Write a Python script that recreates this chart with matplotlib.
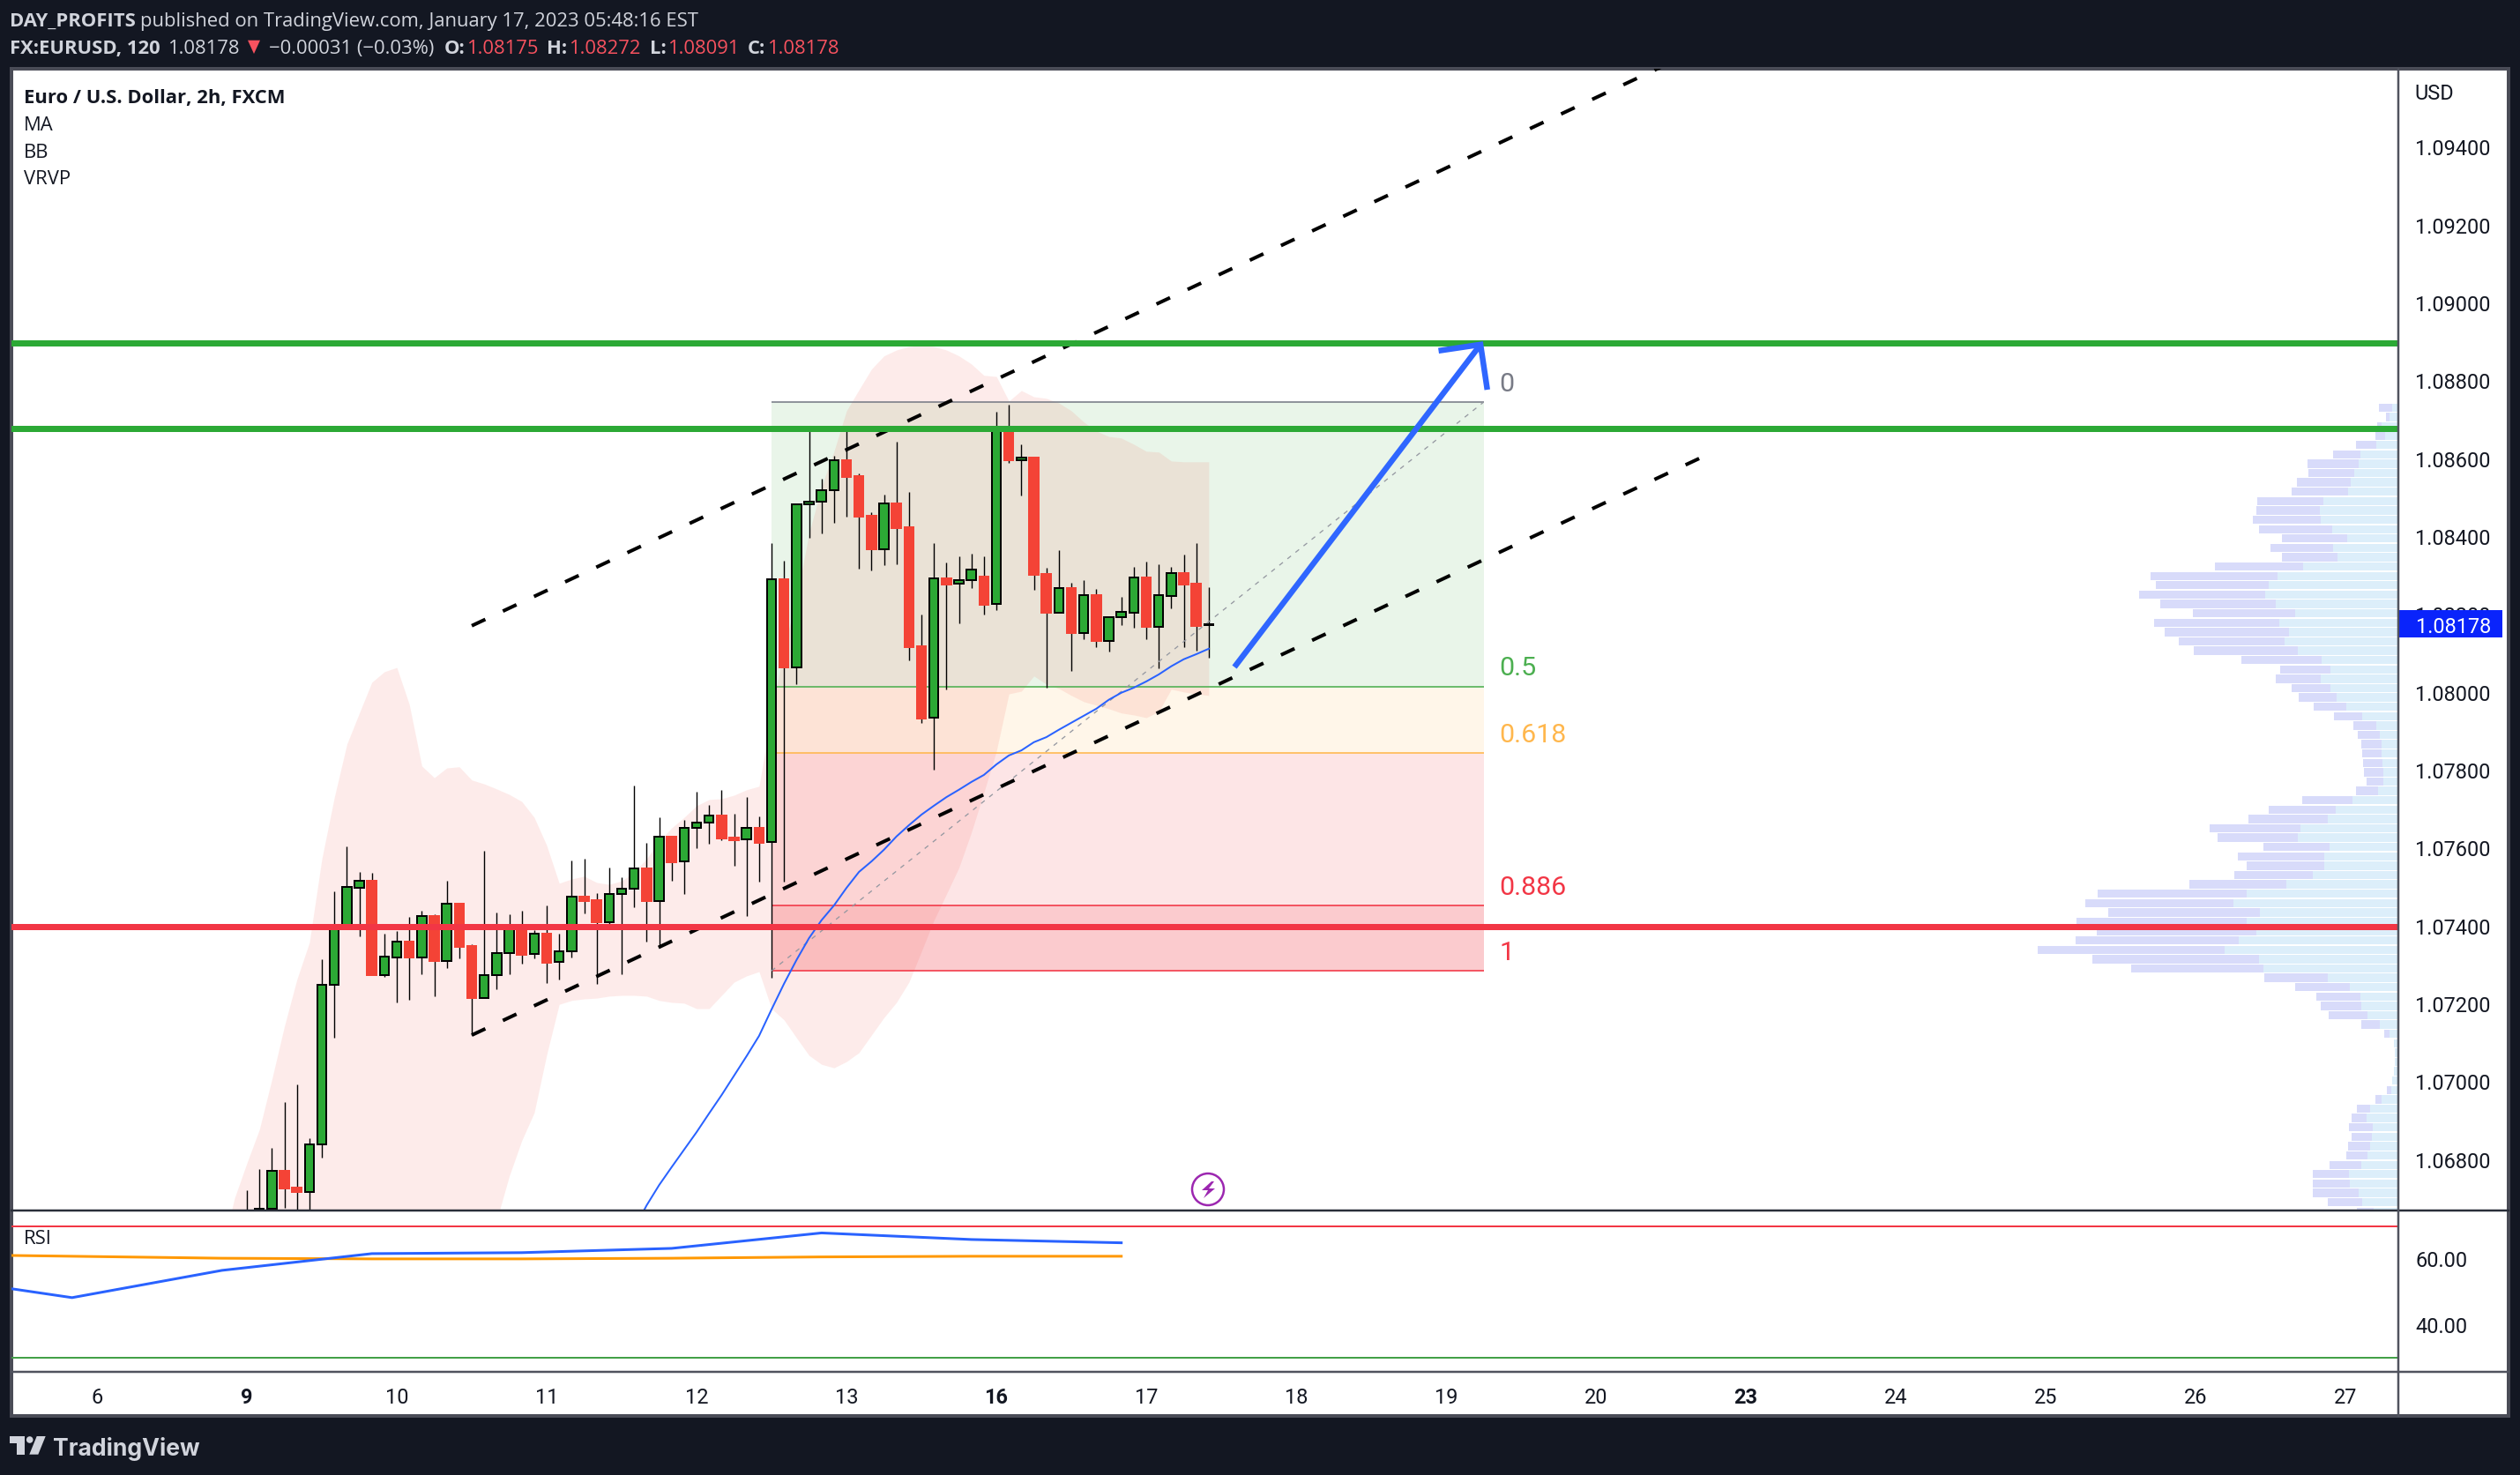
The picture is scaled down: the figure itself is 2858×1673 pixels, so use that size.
import numpy as np
import matplotlib
matplotlib.use("Agg")
from matplotlib import pyplot as plt
from matplotlib.patches import Rectangle, Polygon, Circle
from matplotlib.transforms import ScaledTranslation

W, H = 2858, 1674
DPI = 200
PT = 72 / DPI  # one image pixel in points

# bars are numbered from the "6" tick, 12 bars per day on the time axis
day_labels = ["6", "9", "10", "11", "12", "13", "16", "17", "18", "19", "20", "23", "24", "25", "26", "27"]
bold_days = ["9", "16", "23"]
price_ticks = [1.094, 1.092, 1.090, 1.088, 1.086, 1.084, 1.082, 1.080, 1.078, 1.076, 1.074, 1.072, 1.070, 1.068]
rsi_ticks = [60, 40]

opens = [1.06650, 1.06670, 1.06676, 1.06773, 1.06730, 1.06720, 1.06842, 1.07251, 1.07402, 1.07501, 1.07518, 1.07277, 1.07322,
         1.07362, 1.07322, 1.07428, 1.07313, 1.07460, 1.07351, 1.07218, 1.07275, 1.07332, 1.07400, 1.07330, 1.07383, 1.07309,
         1.07337, 1.07478, 1.07469, 1.07413, 1.07484, 1.07497, 1.07550, 1.07467, 1.07632, 1.07567, 1.07654, 1.07667, 1.07686,
         1.07629, 1.07624, 1.07654, 1.07617, 1.08293, 1.08065, 1.08484, 1.08491, 1.08521, 1.08598, 1.08558, 1.08456, 1.08370,
         1.08487, 1.08426, 1.08121, 1.07936, 1.08295, 1.08280, 1.08290, 1.08300, 1.08228, 1.08673, 1.08599, 1.08605, 1.08306,
         1.08207, 1.08270, 1.08155, 1.08252, 1.08135, 1.08194, 1.08207, 1.08297, 1.08171, 1.08250, 1.08309, 1.08281, 1.08175]
highs = [1.06724, 1.06777, 1.06832, 1.06950, 1.06996, 1.06857, 1.07317, 1.07491, 1.07607, 1.07541, 1.07539, 1.07383, 1.07390,
         1.07426, 1.07442, 1.07432, 1.07518, 1.07462, 1.07355, 1.07595, 1.07437, 1.07432, 1.07442, 1.07392, 1.07455, 1.07383,
         1.07571, 1.07575, 1.07487, 1.07552, 1.07528, 1.07763, 1.07616, 1.07681, 1.07632, 1.07675, 1.07747, 1.07713, 1.07752,
         1.07691, 1.07734, 1.07684, 1.08386, 1.08340, 1.08487, 1.08681, 1.08551, 1.08609, 1.08677, 1.08564, 1.08465, 1.08510,
         1.08646, 1.08517, 1.08202, 1.08386, 1.08336, 1.08352, 1.08358, 1.08352, 1.08723, 1.08741, 1.08639, 1.08605, 1.08322,
         1.08367, 1.08284, 1.08290, 1.08268, 1.08195, 1.08247, 1.08324, 1.08338, 1.08331, 1.08324, 1.08356, 1.08386, 1.08272]
lows = [1.06600, 1.06620, 1.06620, 1.06679, 1.06640, 1.06640, 1.06808, 1.07116, 1.07400, 1.07376, 1.07276, 1.07272, 1.07206,
        1.07213, 1.07278, 1.07222, 1.07294, 1.07319, 1.07122, 1.07218, 1.07240, 1.07278, 1.07306, 1.07319, 1.07256, 1.07265,
        1.07322, 1.07435, 1.07254, 1.07405, 1.07278, 1.07451, 1.07362, 1.07346, 1.07518, 1.07485, 1.07602, 1.07614, 1.07623,
        1.07557, 1.07428, 1.07516, 1.07270, 1.07515, 1.08023, 1.08398, 1.08410, 1.08438, 1.08453, 1.08320, 1.08315, 1.08329,
        1.08331, 1.08084, 1.07924, 1.07804, 1.08010, 1.08180, 1.08270, 1.08202, 1.08213, 1.08592, 1.08508, 1.08266, 1.08015,
        1.08207, 1.08057, 1.08139, 1.08118, 1.08107, 1.08175, 1.08168, 1.08139, 1.08064, 1.08218, 1.08118, 1.08109, 1.08091]
closes = [1.06660, 1.06676, 1.06773, 1.06728, 1.06720, 1.06842, 1.07251, 1.07402, 1.07502, 1.07518, 1.07276, 1.07323, 1.07362,
          1.07322, 1.07427, 1.07312, 1.07460, 1.07349, 1.07217, 1.07275, 1.07332, 1.07395, 1.07328, 1.07382, 1.07308, 1.07337,
          1.07477, 1.07466, 1.07412, 1.07484, 1.07497, 1.07549, 1.07466, 1.07631, 1.07566, 1.07654, 1.07667, 1.07685, 1.07627,
          1.07623, 1.07654, 1.07616, 1.08292, 1.08065, 1.08484, 1.08491, 1.08521, 1.08598, 1.08555, 1.08453, 1.08370, 1.08487,
          1.08424, 1.08118, 1.07935, 1.08294, 1.08279, 1.08290, 1.08317, 1.08227, 1.08673, 1.08598, 1.08604, 1.08304, 1.08207,
          1.08269, 1.08155, 1.08251, 1.08134, 1.08195, 1.08208, 1.08296, 1.08170, 1.08251, 1.08308, 1.08279, 1.08173, 1.08178]

bb_upper = [1.06568, 1.06703, 1.06794, 1.06880, 1.07009, 1.07145, 1.07265, 1.07360, 1.07575, 1.07733, 1.07869, 1.07949, 1.08028,
            1.08055, 1.08066, 1.07971, 1.07813, 1.07783, 1.07808, 1.07811, 1.07777, 1.07767, 1.07754, 1.07740, 1.07722, 1.07681,
            1.07609, 1.07512, 1.07523, 1.07530, 1.07514, 1.07509, 1.07518, 1.07541, 1.07575, 1.07620, 1.07654, 1.07681, 1.07711,
            1.07727, 1.07729, 1.07738, 1.07752, 1.07761, 1.07949, 1.08118, 1.08243, 1.08410, 1.08530, 1.08621, 1.08725, 1.08779,
            1.08832, 1.08866, 1.08881, 1.08890, 1.08893, 1.08890, 1.08881, 1.08866, 1.08845, 1.08816, 1.08813, 1.08750, 1.08777,
            1.08761, 1.08757, 1.08745, 1.08725, 1.08696, 1.08673, 1.08659, 1.08655, 1.08639, 1.08621, 1.08619, 1.08596, 1.08594,
            1.08594, 1.08594]
# the first 21 lower values are off the bottom of the pane
bb_lower = [1.06500, 1.06500, 1.06500, 1.06500, 1.06500, 1.06500, 1.06500, 1.06500, 1.06500, 1.06500, 1.06500, 1.06500, 1.06500,
            1.06500, 1.06500, 1.06500, 1.06500, 1.06500, 1.06500, 1.06500, 1.06500, 1.06534, 1.06647, 1.06760, 1.06851, 1.06923,
            1.07072, 1.07201, 1.07211, 1.07215, 1.07217, 1.07222, 1.07224, 1.07224, 1.07222, 1.07211, 1.07206, 1.07204, 1.07190,
            1.07190, 1.07224, 1.07258, 1.07274, 1.07285, 1.07190, 1.07161, 1.07115, 1.07070, 1.07047, 1.07038, 1.07054, 1.07077,
            1.07122, 1.07167, 1.07206, 1.07258, 1.07337, 1.07417, 1.07484, 1.07552, 1.07643, 1.07745, 1.07851, 1.07998, 1.08005,
            1.08044, 1.08023, 1.08012, 1.07994, 1.07978, 1.07969, 1.07960, 1.07949, 1.07944, 1.07937, 1.07953, 1.08010, 1.08003,
            1.07998, 1.07994]
ma_values = [1.06624, 1.06685, 1.06737, 1.06783, 1.06828, 1.06873, 1.06921, 1.06968, 1.07018, 1.07068, 1.07120, 1.07188, 1.07254,
             1.07315, 1.07371, 1.07417, 1.07455, 1.07500, 1.07541, 1.07568, 1.07598, 1.07632, 1.07661, 1.07688, 1.07711, 1.07733,
             1.07752, 1.07772, 1.07790, 1.07817, 1.07840, 1.07853, 1.07874, 1.07887, 1.07906, 1.07924, 1.07942, 1.07960, 1.07983,
             1.08001, 1.08014, 1.08030, 1.08048, 1.08069, 1.08087, 1.08100, 1.08114]

# volume profile rows, top row first (arbitrary volume units)
vp_up = [18, 26, 49, 39, 66, 115, 121, 134, 145, 153, 229, 240, 237, 202, 156, 199, 186, 292, 370, 397, 408, 376, 316, 365, 335,
         349, 308, 235, 208, 237, 208, 189, 159, 110, 66, 56, 50, 50, 47, 45, 45, 61, 140, 191, 216, 300, 308, 210, 227, 227,
         262, 343, 465, 506, 425, 465, 435, 490, 533, 427, 414, 216, 148, 115, 113, 94, 56, 26, 12, 9, 9, 12, 18, 21, 50, 85,
         96, 77, 80, 85, 94, 113, 151, 148, 121, 110, 75]
vp_down = [40, 11, 16, 30, 63, 84, 157, 141, 166, 174, 204, 195, 209, 225, 201, 193, 171, 271, 391, 348, 388, 355, 315, 385, 383,
           325, 320, 247, 154, 139, 119, 116, 100, 87, 71, 67, 63, 60, 60, 59, 51, 68, 154, 206, 244, 279, 247, 204, 265, 238,
           241, 299, 459, 456, 466, 524, 491, 502, 575, 513, 407, 195, 168, 136, 124, 119, 57, 16, 0, 0, 0, 0, 0, 13, 20, 41,
           46, 74, 62, 68, 65, 97, 111, 114, 141, 106, 51]
vp_top = 1.08733
vp_bottom = 1.06669

# fib tool
fib_start_bar = 54
fib_end_bar = 111
fib_levels = ["0", "0.5", "0.618", "0.886", "1"]
fib_prices = [1.08747, 1.08017, 1.07846, 1.07454, 1.07287]
fib_line_colors = ["#787B86", "#4CAF50", "#FFB74D", "#F23645", "#F23645"]
fib_fill_colors = ["#4CAF50", "#FFB74D", "#F23645", "#F23645"]
fib_fill_alpha = [0.12, 0.12, 0.13, 0.26]

# drawings
level_green = [1.08899, 1.08679]
level_red = 1.07400
channel_bars = [30, 128.3]
channel_lower = [1.07122, 1.08603]
channel_upper = [1.08173, 1.09654]
arrow_bars = [91.06, 110.76]
arrow_prices = [1.08067, 1.08895]
arrow_head_bars = [107.4, 110.76, 111.3]
arrow_head_prices = [1.08879, 1.08895, 1.08779]

# rsi pane, one point per day on this chart
rsi_bars = [-14, -2, 10, 22, 34, 46, 58, 70, 82]
rsi_line = [55.1, 48.4, 56.7, 61.8, 62.1, 63.4, 68.1, 66.1, 65.1]
rsi_ma = [61.6, 61.0, 60.4, 60.2, 60.2, 60.4, 60.8, 61.0, 61.0]
rsi_upper = 70
rsi_lower = 30

last_close = 1.08178
GREEN = "#2CA935"
RED = "#F44336"
BLUE = "#2962FF"
DARK = "#131722"
LIGHT = "#D1D4DC"
HEAD_RED = "#F7525F"
AXES_FONT = "Roboto"
HEAD_FONT = "Open Sans"

plt.rcParams["font.family"] = AXES_FONT


def px_rect(left, top, right, bottom):
    return [left / W, 1 - bottom / H, (right - left) / W, (bottom - top) / H]


def draw_candles(ax):
    bars = np.arange(90 - len(opens), 90)
    for i, bar in enumerate(bars):
        up = closes[i] >= opens[i]
        ax.vlines(bar, lows[i], highs[i], color="black", lw=1.4 * PT, zorder=4)
        ax.bar(bar, abs(closes[i] - opens[i]), 0.74, min(opens[i], closes[i]),
               color=GREEN if up else RED, edgecolor="black" if up else RED,
               linewidth=2 * PT, zorder=5)


def draw_fib(ax):
    x = [fib_start_bar, fib_end_bar]
    for i in range(len(fib_fill_colors)):
        ax.fill_between(x, fib_prices[i + 1], fib_prices[i], color=fib_fill_colors[i],
                        alpha=fib_fill_alpha[i], lw=0, zorder=1)
    for name, price, color in zip(fib_levels, fib_prices, fib_line_colors):
        ax.hlines(price, x[0], x[1], color=color, lw=1.6 * PT, zorder=3)
        ax.annotate(name, (x[1], price), xytext=(18 * PT, 13.5 * PT), textcoords="offset points",
                    color=color, fontsize=30.4 * PT, va="baseline", zorder=6)
    ax.plot(x, [fib_prices[-1], fib_prices[0]], color="#9598A1", lw=1.3 * PT,
            dashes=(4, 5), zorder=6)


def nudge_up(labels, pixels):
    # tick labels sit a little high in the reference
    for lab in labels:
        lab.set_transform(lab.get_transform() + ScaledTranslation(0, pixels / DPI, fig.dpi_scale_trans))


fig = plt.figure(figsize=(W / DPI, H / DPI), dpi=DPI, facecolor=DARK)

# frame and white panel, in image pixels
back = fig.add_axes([0, 0, 1, 1], zorder=-1)
back.set_xlim(0, W)
back.set_ylim(H, 0)
back.axis("off")
back.add_patch(Rectangle((13, 79), 2832, 1528, facecolor="white", edgecolor="#4A4C57", lw=4 * PT))

# volume profile sits behind the price pane
ax = fig.add_axes(px_rect(13, 79, 2719.5, 1373), zorder=1)
ax.patch.set_visible(False)
vp = fig.add_axes(ax.get_position(), zorder=0)
vp.patch.set_visible(False)
vp.axis("off")
vp.set_xlim(7343, 0)
vp.set_ylim(1.06674, 1.09603)
vp_rows = np.linspace(vp_top, vp_bottom, len(vp_up))
vp.barh(vp_rows, vp_up, 0.000212, color="#DCEEFA", lw=0)
vp.barh(vp_rows, vp_down, 0.000212, left=vp_up, color="#D8DBFA", lw=0)

draw_fib(ax)

bb_bars = np.arange(90 - len(bb_upper), 90)
ax.fill_between(bb_bars, bb_lower, bb_upper, color=RED, alpha=0.1, lw=0, zorder=2)
draw_candles(ax)
ax.plot(np.arange(90 - len(ma_values), 90), ma_values, color=BLUE, lw=2 * PT, zorder=6)

for lvl in level_green:
    ax.axhline(lvl, color=GREEN, lw=7 * PT, zorder=8)
ax.axhline(level_red, color="#F23645", lw=7 * PT, zorder=8)

for chan in (channel_lower, channel_upper):
    ax.plot(channel_bars, chan, color="black", lw=4 * PT, dashes=(17 / 4, 22 / 4), zorder=7)

ax.plot(arrow_bars, arrow_prices, color="#2F66FF", lw=6.5 * PT, solid_capstyle="butt", zorder=9)
ax.plot(arrow_head_bars, arrow_head_prices, color="#2F66FF", lw=6.5 * PT,
        solid_joinstyle="miter", solid_capstyle="butt", zorder=9)

ax.set_xlim(-6.85, 184.2)
ax.set_ylim(1.06674, 1.09603)
ax.set_xticks([])
ax.yaxis.tick_right()
ax.set_yticks(price_ticks)
ax.set_yticklabels(["%.5f" % p for p in price_ticks])
ax.tick_params(axis="y", length=0, pad=19.5 * PT, labelsize=23.5 * PT, labelcolor="#131722")
nudge_up(ax.get_yticklabels(), 1.5)
for s in ax.spines.values():
    s.set_visible(False)

# last price tag on the axis
trans = ax.get_yaxis_transform()
ax.add_patch(Rectangle((1, last_close - 0.00035), 118 / 2706.5, 0.0007, transform=trans,
                       facecolor="#0A24FB", edgecolor="none", clip_on=False, zorder=20))
ax.text(1 + 20 / 2706.5, last_close, "%.5f" % last_close, transform=trans, color="white",
        fontsize=23.5 * PT, va="center_baseline", clip_on=False, zorder=21)
ax.text(1 + 18.5 / 2706.5, 1.09540, "USD", transform=trans, color="#131722", fontsize=23.5 * PT,
        va="center", clip_on=False)

# rsi pane
rsi = fig.add_axes(px_rect(13, 1373, 2719.5, 1557), zorder=1)
rsi.patch.set_visible(False)
rsi.axhline(rsi_upper, color="#F23645", lw=2 * PT)
rsi.axhline(rsi_lower, color="#43A047", lw=2 * PT)
rsi.plot(rsi_bars, rsi_ma, color="#FF9800", lw=3 * PT)
rsi.plot(rsi_bars, rsi_line, color=BLUE, lw=3 * PT)
rsi.set_xlim(-6.85, 184.2)
rsi.set_ylim(25.8, 75.2)
rsi.yaxis.tick_right()
rsi.set_yticks(rsi_ticks)
rsi.set_yticklabels(["%.2f" % r for r in rsi_ticks])
rsi.set_xticks(np.arange(len(day_labels)) * 12)
rsi.set_xticklabels(day_labels)
rsi.tick_params(axis="both", length=0, labelsize=23.5 * PT, labelcolor="#131722")
rsi.tick_params(axis="y", pad=19.5 * PT)
rsi.tick_params(axis="x", pad=17 * PT)
nudge_up(rsi.get_yticklabels(), 1.5)
for lab in rsi.get_xticklabels():
    if lab.get_text() in bold_days:
        lab.set_fontweight("bold")
for s in rsi.spines.values():
    s.set_visible(False)

# top layer: separators, header texts, logo
top = fig.add_axes([0, 0, 1, 1], zorder=5)
top.patch.set_visible(False)
top.set_xlim(0, W)
top.set_ylim(H, 0)
top.axis("off")
top.plot([13, 2845], [1373.5, 1373.5], color="#2A2E39", lw=2.5 * PT)
top.plot([13, 2845], [1557, 1557], color="#50535E", lw=2.5 * PT)
top.plot([2720, 2720], [79, 1607], color="#50535E", lw=2.5 * PT)

head = dict(fontsize=22 * PT, family=HEAD_FONT, va="baseline")
top.text(11, 30, "DAY_PROFITS", color=LIGHT, fontweight="bold", **head)
top.text(159.5, 30, "published on TradingView.com, January 17, 2023 05:48:16 EST", color=LIGHT, **head)
top.text(11, 60.7, "FX:EURUSD, 120", color=LIGHT, fontweight="bold", **head)
top.text(190, 60.7, "1.08178", color=LIGHT, **head)
top.add_patch(Polygon([(281, 46.7), (295, 46.7), (288, 62)], facecolor=HEAD_RED, edgecolor="none"))
top.text(305, 60.7, "\u22120.00031 (\u22120.03%)", color=LIGHT, **head)
for lab, lx, val, vx in [("O:", 504, "1.08175", 529), ("H:", 620.5, "1.08272", 645),
                         ("L:", 737, "1.08091", 757), ("C:", 848, "1.08178", 870.5)]:
    top.text(lx, 60.7, lab, color=LIGHT, fontweight="bold", **head)
    top.text(vx, 60.7, val, color=HEAD_RED, **head)

leg = dict(fontsize=22 * PT, family=HEAD_FONT, va="baseline", color="#131722")
top.text(27, 116.7, "Euro / U.S. Dollar, 2h, FXCM", fontweight="bold", **leg)
top.text(27, 147.7, "MA", **leg)
top.text(27, 178.7, "BB", **leg)
top.text(27, 209, "VRVP", **leg)
top.text(27, 1410.7, "RSI", **leg)

# earnings style icon
top.add_patch(Circle((1370, 1350), 18, facecolor="white", edgecolor="#9C27B0", lw=2.5 * PT))
top.add_patch(Polygon([(1374, 1341), (1363, 1351), (1370, 1351), (1365, 1360), (1378, 1349), (1371, 1349), (1377, 1341)],
                      facecolor="#9C27B0", edgecolor="none"))

# TradingView logo
top.add_patch(Polygon([(11, 1630), (27.7, 1630), (27.7, 1650.7), (19.3, 1650.7), (19.3, 1638), (11, 1638)],
                      facecolor=LIGHT, edgecolor="none"))
top.add_patch(Circle((33.7, 1634), 3.8, facecolor=LIGHT, edgecolor="none"))
top.add_patch(Polygon([(41.7, 1630), (51.7, 1630), (43.3, 1650.7), (33.3, 1650.7)], facecolor=LIGHT, edgecolor="none"))
top.text(60, 1650.7, "TradingView", color=LIGHT, fontsize=26.6 * PT, family="Inter", fontweight="bold", va="baseline")

fig.savefig("out.png", dpi=DPI, facecolor=DARK)
